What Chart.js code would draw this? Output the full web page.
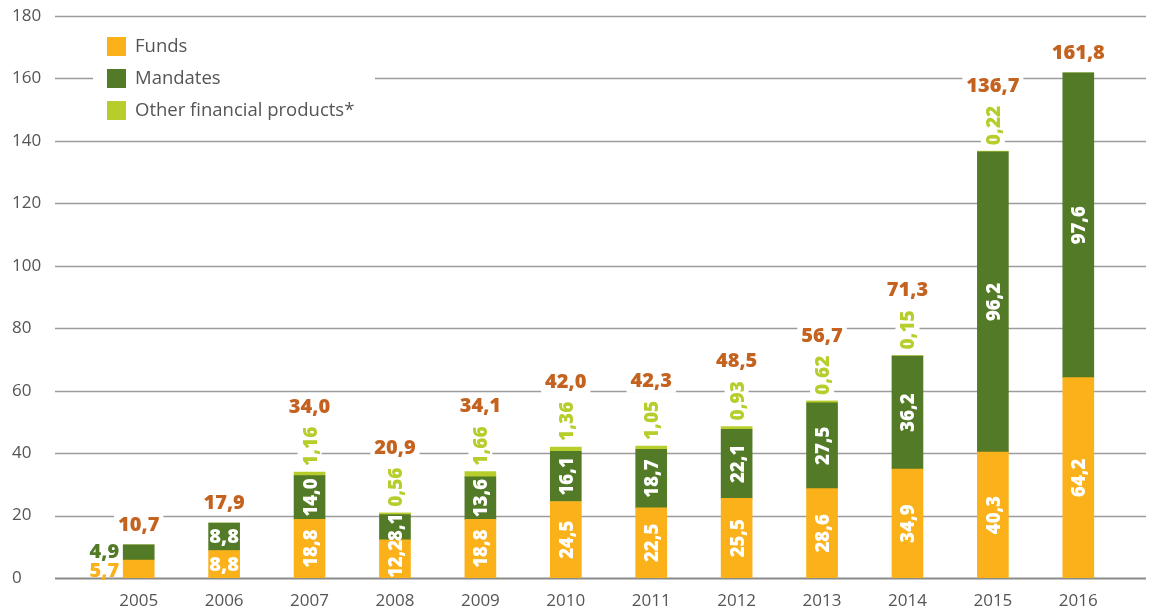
<!DOCTYPE html>
<html>
<head>
<meta charset="utf-8">
<script src="https://cdn.jsdelivr.net/npm/chart.js@4"></script>
<style>
  body { margin: 0; background: #fff; }
  #wrap { width: 1159px; height: 609px; position: relative; }
</style>
</head>
<body>
<div id="wrap"><canvas id="myChart"></canvas></div>
<script>
const years = ["2005", "2006", "2007", "2008", "2009", "2010", "2011", "2012", "2013", "2014", "2015", "2016"];
const funds = [5.7, 8.8, 18.8, 12.2, 18.8, 24.5, 22.5, 25.5, 28.6, 34.9, 40.3, 64.2];
const mandates = [4.9, 8.8, 14.0, 8.1, 13.6, 16.1, 18.7, 22.1, 27.5, 36.2, 96.2, 97.6];
const other = [0, 0, 1.16, 0.56, 1.66, 1.36, 1.05, 0.93, 0.62, 0.15, 0.22, 0];
const totals = [10.7, 17.9, 34.0, 20.9, 34.1, 42.0, 42.3, 48.5, 56.7, 71.3, 136.7, 161.8];
const yTicks = [0, 20, 40, 60, 80, 100, 120, 140, 160, 180];

const orange = "#fbb11a";
const darkGreen = "#537a26";
const lightGreen = "#b7cd2c";
const totalColor = "#c4621f";
const textGrey = "#555555";
const boldFont = "800 20px 'Open Sans'";
const innerFont = "800 18.5px 'Open Sans'";
const otherFont = "800 19px 'Open Sans'";

const ctx = document.getElementById("myChart");

const fmt = (v, d) => v.toFixed(d).replace(".", ",");

// white box behind a label, knocks out the gridlines
function knockout(c, x, y, w, h) {
  c.save();
  c.fillStyle = "#fff";
  c.fillRect(x, y, w, h);
  c.restore();
}

function rotatedLabel(c, text, x, yStart, color, anchor, font) {
  // anchor: "start" -> text begins at yStart going up, "center" -> centered on yStart
  c.save();
  c.font = font || boldFont;
  c.translate(x, yStart);
  c.rotate(-Math.PI / 2);
  c.fillStyle = color;
  c.textBaseline = "alphabetic";
  c.textAlign = anchor === "center" ? "center" : "left";
  c.fillText(text, 0, 7);
  c.restore();
}

const gridPlugin = {
  id: "gridPlugin",
  beforeDatasetsDraw(chart) {
    const c = chart.ctx;
    const y = chart.scales.y;
    c.save();
    yTicks.forEach((t) => {
      const py = Math.round(y.getPixelForValue(t)) + 0.5;
      c.beginPath();
      c.strokeStyle = t === 0 ? "#8a8a8a" : "#9c9c9c";
      c.lineWidth = t === 0 ? 2 : 1.4;
      c.moveTo(55, py);
      c.lineTo(1146, py);
      c.stroke();
    });
    c.restore();
  },
};

const labelPlugin = {
  id: "labelPlugin",
  afterDatasetsDraw(chart) {
    const c = chart.ctx;
    const fMeta = chart.getDatasetMeta(0).data;
    const mMeta = chart.getDatasetMeta(1).data;
    const oMeta = chart.getDatasetMeta(2).data;

    years.forEach((yr, i) => {
      const fb = fMeta[i];
      const mb = mMeta[i];
      const ob = oMeta[i];
      const cx = fb.x;
      const fMid = (fb.y + fb.base) / 2;
      const mMid = (mb.y + mb.base) / 2;

      c.save();
      c.font = boldFont;
      if (i === 0) {
        // too small, put values beside the bar
        const left = cx - fb.width / 2 - 4;
        c.textAlign = "right";
        c.textBaseline = "middle";
        c.fillStyle = orange;
        c.fillText(fmt(funds[i], 1), left, fMid + 2);
        c.fillStyle = darkGreen;
        c.fillText(fmt(mandates[i], 1), left, mMid);
      } else if (i === 1) {
        c.textAlign = "center";
        c.textBaseline = "middle";
        c.fillStyle = "#fff";
        c.fillText(fmt(funds[i], 1), cx, fMid + 1);
        c.fillText(fmt(mandates[i], 1), cx, mMid + 1);
      } else {
        rotatedLabel(c, fmt(funds[i], 1), cx, fMid, "#fff", "center", innerFont);
        rotatedLabel(c, fmt(mandates[i], 1), cx, mMid, "#fff", "center", innerFont);
      }
      c.restore();

      // other products above the bar
      let top = other[i] > 0 ? ob.y : mb.y;
      if (other[i] > 0) {
        c.save();
        c.font = otherFont;
        const txt = fmt(other[i], 2);
        const w = c.measureText(txt).width;
        const start = top - 6;
        knockout(c, cx - 12, start - w - 3, 24, w + 6);
        rotatedLabel(c, txt, cx, start, lightGreen, "start", otherFont);
        c.restore();
        top = start - w;
      }

      // total on top
      c.save();
      c.font = boldFont;
      const tt = fmt(totals[i], 1);
      const tw = c.measureText(tt).width;
      const base = top - 14;
      knockout(c, cx - tw / 2 - 4, base - 19, tw + 8, 25);
      c.fillStyle = totalColor;
      c.textAlign = "center";
      c.textBaseline = "alphabetic";
      c.fillText(tt, cx, base);
      c.restore();
    });
  },
};

const legendPlugin = {
  id: "legendPlugin",
  afterDraw(chart) {
    const c = chart.ctx;
    c.save();
    knockout(c, 93, 26, 282, 104);
    chart.data.datasets.forEach((ds, i) => {
      const y = 37 + i * 32;
      c.fillStyle = ds.backgroundColor;
      c.fillRect(107, y, 19, 19);
      c.fillStyle = textGrey;
      c.font = "18.5px 'Open Sans'";
      c.textAlign = "left";
      c.textBaseline = "middle";
      c.fillText(ds.label, 135, y + 10);
    });
    c.restore();
  },
};

const myChart = new Chart(ctx, {
  type: "bar",
  data: {
    labels: years,
    datasets: [
      { label: "Funds", data: funds, backgroundColor: orange },
      { label: "Mandates", data: mandates, backgroundColor: darkGreen },
      { label: "Other financial products*", data: other, backgroundColor: lightGreen },
    ],
  },
  options: {
    responsive: true,
    maintainAspectRatio: false,
    animation: false,
    layout: { padding: { top: 16, left: 12, right: 38, bottom: 0 } },
    datasets: { bar: { barThickness: 31 } },
    plugins: {
      legend: { display: false },
      tooltip: { enabled: false },
    },
    scales: {
      x: {
        stacked: true,
        grid: { display: false, drawTicks: false },
        border: { display: false },
        ticks: { color: textGrey, font: { family: "'Open Sans'", size: 17 }, padding: 13 },
        afterFit: (s) => { s.height = 31; },
      },
      y: {
        stacked: true,
        min: 0,
        max: 180,
        grid: { display: false, drawTicks: false },
        border: { display: false },
        ticks: {
          stepSize: 20,
          color: textGrey,
          crossAlign: "far",
          font: { family: "'Open Sans'", size: 17 },
        },
        afterFit: (s) => { s.width = 84; },
      },
    },
  },
  plugins: [gridPlugin, labelPlugin, legendPlugin],
});
</script>
</body>
</html>
